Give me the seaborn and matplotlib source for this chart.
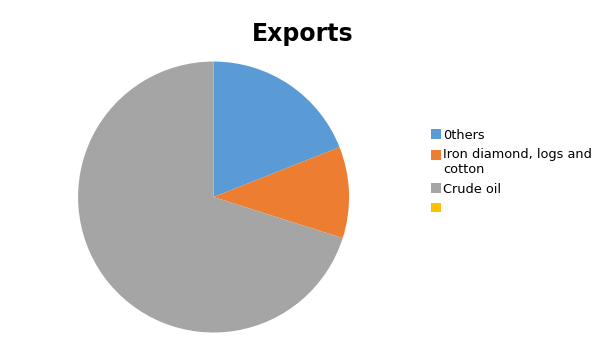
import matplotlib
matplotlib.use("Agg")
import matplotlib.pyplot as plt
import seaborn as sns
from matplotlib.patches import Patch, Rectangle
from matplotlib.legend_handler import HandlerPatch

sns.set_style("white")
plt.rcParams['font.family'] = ['DejaVu Sans']
plt.rcParams['text.color'] = 'black'

categories = ["0thers", "Iron diamond, logs and\ncotton", "Crude oil", ""]
values = [19.0, 10.9, 70.1, 0.0]
colors = ["#5B9BD5", "#ED7D31", "#A5A5A5", "#FFC000"]

fig = plt.figure(figsize=(6.05, 3.4), dpi=100)
ax = fig.add_axes([0.129, 0.022, 0.448, 0.797])
ax.pie(values, colors=colors, startangle=90, counterclock=False,
       wedgeprops=dict(linewidth=0), radius=1.0)
ax.set_xlim(-1, 1)
ax.set_ylim(-1, 1)
ax.set_aspect("equal")
ax.axis("off")

fig.text(0.5, 0.9, "Exports", ha="center", va="center", fontsize=17,
         fontweight="bold", color="black")


def top_patch(legend, orig_handle, xdescent, ydescent, width, height, fontsize):
    return Rectangle((-xdescent, -ydescent + 5.3), width, height)


handles = [Patch(facecolor=c, edgecolor="none") for c in colors]
hmap = {handles[1]: HandlerPatch(patch_func=top_patch)}
fig.legend(handles, categories, loc="upper left", bbox_to_anchor=(0.704, 0.637),
           frameon=False, fontsize=9.3, handlelength=0.75, handleheight=0.75,
           handletextpad=0.2, labelspacing=0.5, borderaxespad=0,
           handler_map=hmap)

fig.savefig("out.png", dpi=100)
